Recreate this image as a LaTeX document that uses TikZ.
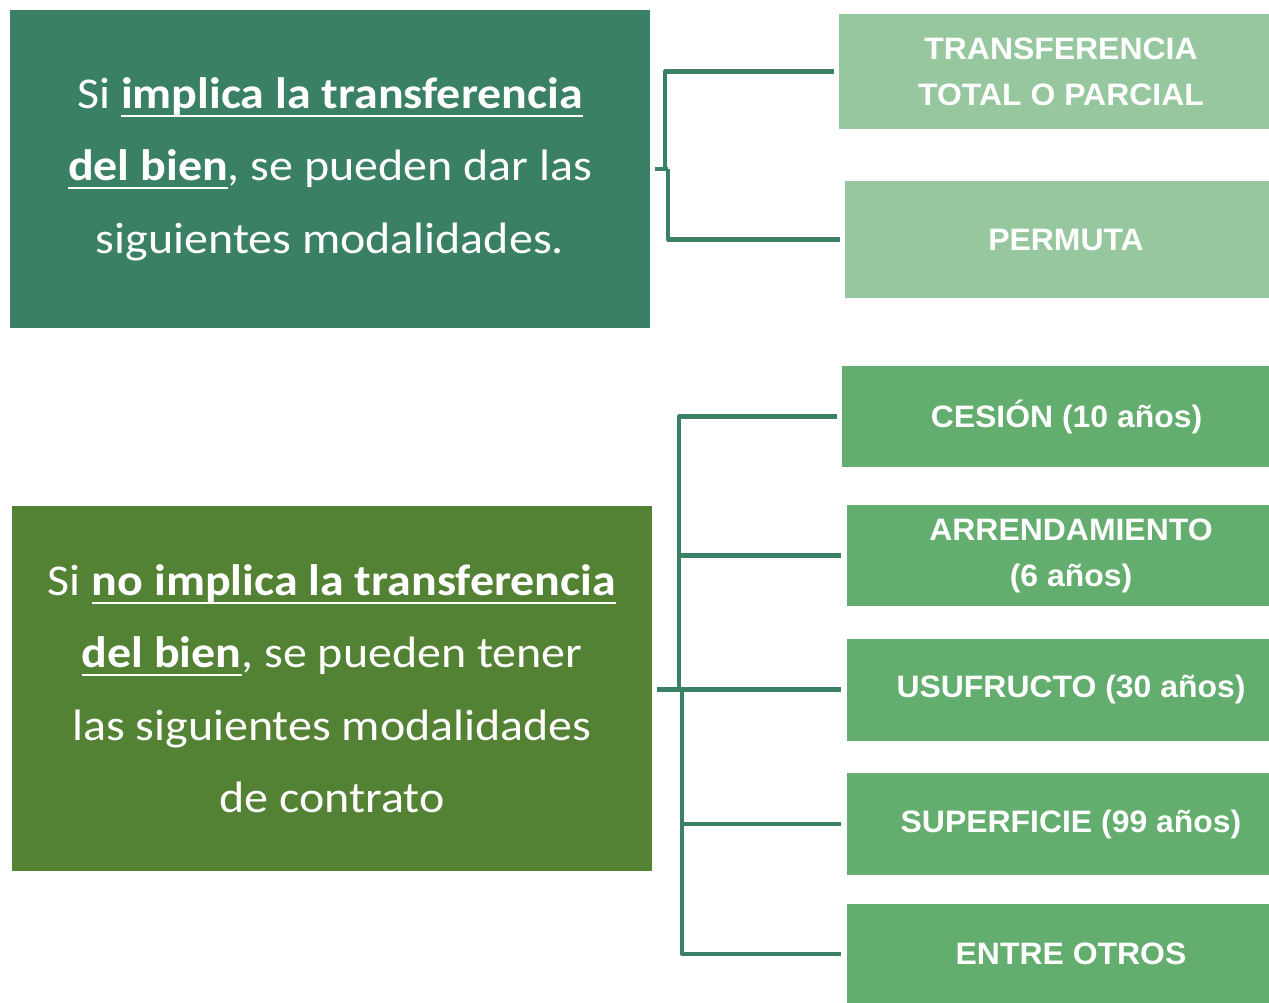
\documentclass[tikz,border=0pt]{standalone}
\usepackage{fontspec}
\setmainfont{Carlito}[FakeStretch=1.09]
\newfontfamily\arialf{Liberation Sans}[FakeStretch=1.03]
\definecolor{tealbox}{HTML}{3A8064}
\definecolor{olivebox}{HTML}{548235}
\definecolor{lightbox}{HTML}{96C79E}
\definecolor{midbox}{HTML}{63AD6E}
\definecolor{connc}{HTML}{3A8064}
\newcommand{\myul}[1]{\setbox0\hbox{#1}\rlap{\vrule height -6.5pt depth 8.8pt width \wd0}\box0}
\tikzset{
  bigbox/.style={rectangle, draw=none, text=white, align=center, inner sep=0pt,
    font=\fontsize{44}{72.5}\selectfont},
  optbox/.style={rectangle, draw=none, text=white, align=center, inner sep=0pt,
    font=\arialf\bfseries\fontsize{31}{46}\selectfont},
  conn/.style={draw=connc, line width=4.5pt, line join=round}
}
\begin{document}
\begin{tikzpicture}[x=1pt,y=-1pt]
\useasboundingbox (0,0) rectangle (1269,1003);
\clip (0,0) rectangle (1269,1003);
% main boxes
\node[bigbox, fill=tealbox, minimum width=640pt, minimum height=318pt] (A) at (330,169)
  {Si \myul{\textbf{implica la transferencia}}\\
   \myul{\textbf{del bien}}, se pueden dar las\\
   siguientes modalidades.};
\node[bigbox, fill=olivebox, minimum width=640pt, minimum height=365pt] (B) at (332,688.5)
  {Si \myul{\textbf{no implica la transferencia}}\\
   \myul{\textbf{del bien}}, se pueden tener\\
   las siguientes modalidades\\
   de contrato};
% option boxes
\node[optbox, fill=lightbox, minimum width=444pt, minimum height=115pt] (R1) at (1061,71.5)
  {TRANSFERENCIA\\TOTAL O PARCIAL};
\node[optbox, fill=lightbox, minimum width=442pt, minimum height=117pt] (R2) at (1066,239.5)
  {PERMUTA};
\node[optbox, fill=midbox, minimum width=449pt, minimum height=101pt] (R3) at (1066.5,416.5)
  {CESIÓN (10 años)};
\node[optbox, fill=midbox, minimum width=448pt, minimum height=101pt] (R4) at (1071,555.5)
  {ARRENDAMIENTO\\(6 años)};
\node[optbox, fill=midbox, minimum width=448pt, minimum height=102pt] (R5) at (1071,689.5)
  {USUFRUCTO (30 años)};
\node[optbox, fill=midbox, minimum width=448pt, minimum height=102pt] (R6) at (1071,824)
  {SUPERFICIE (99 años)};
\node[optbox, fill=midbox, minimum width=448pt, minimum height=100pt] (R7) at (1071,954)
  {ENTRE OTROS};
% top connectors
\draw[conn] ([xshift=5pt]A.east) -- ([xshift=18pt]A.east);
\draw[conn] ([xshift=-5pt]R1.west) -| ([xshift=15pt]A.east);
\draw[conn] ([xshift=-5pt]R2.west) -| ([xshift=18pt]A.east);
% bottom connectors
\draw[conn] ([xshift=-6pt]R5.west) -- ([xshift=5pt]B.east |- R5.west);
\draw[conn] ([xshift=-5pt]R3.west) -| ([xshift=27pt]B.east);
\draw[conn] ([xshift=-6pt]R4.west) -| ([xshift=27pt]B.east);
\draw[conn] ([xshift=-6pt]R6.west) -| ([xshift=30pt]B.east);
\draw[conn] ([xshift=-6pt]R7.west) -| ([xshift=30pt]B.east);
\end{tikzpicture}
\end{document}
